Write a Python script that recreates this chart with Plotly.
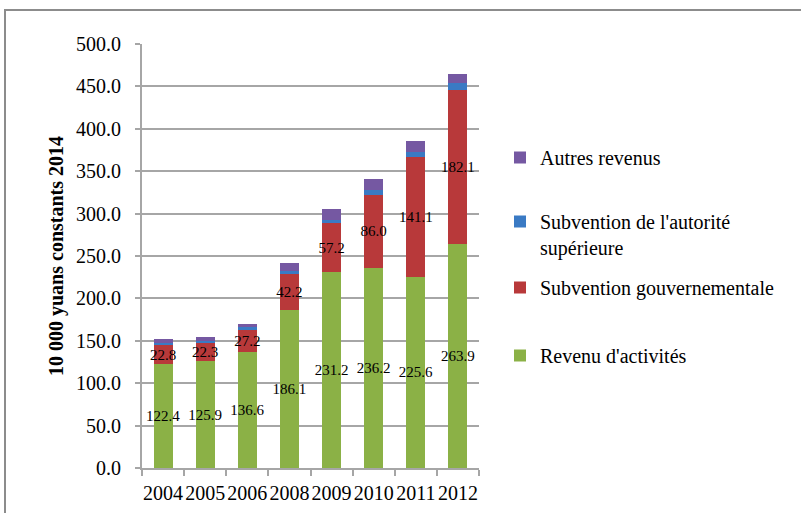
import plotly.graph_objects as go

years = ["2004", "2005", "2006", "2008", "2009", "2010", "2011", "2012"]
revenu_activites = [122.4, 125.9, 136.6, 186.1, 231.2, 236.2, 225.6, 263.9]
subvention_gouv = [22.8, 22.3, 27.2, 42.2, 57.2, 86.0, 141.1, 182.1]
subvention_autorite = [2.0, 1.6, 2.0, 3.5, 4.0, 6.0, 6.5, 7.5]
autres_revenus = [5.5, 4.8, 4.2, 10.5, 12.5, 13.0, 12.5, 11.0]

names = ["Revenu d'activités", "Subvention gouvernementale",
         "Subvention de l'autorité<br>supérieure", "Autres revenus"]
colors = ["#8BB146", "#B8393A", "#3A7AC4", "#7558A2"]

FONT = "Liberation Serif, Times New Roman, serif"
W, H = 801, 513
L, R, T, B = 142, 322, 44, 45

fig = go.Figure()
series = [revenu_activites, subvention_gouv, subvention_autorite, autres_revenus]
legend_ids = ["legend4", "legend3", "legend2", "legend"]
for i, (vals, name, col) in enumerate(zip(series, names, colors)):
    labelled = i < 2
    tf = dict(family=FONT, size=15, color="black")
    fig.add_trace(go.Bar(
        x=years, y=vals, name=name,
        marker=dict(color=col, line=dict(width=0)),
        text=[f"{v:.1f}" for v in vals] if labelled else None,
        textposition="inside" if labelled else "none",
        insidetextanchor="middle",
        textangle=0,
        constraintext="none",
        textfont=tf, insidetextfont=tf,
        cliponaxis=False,
        legend=legend_ids[i],
    ))

leg_font = dict(family=FONT, size=20, color="black")
def leg(center_px, valign="middle"):
    return dict(xref="container", yref="container", x=500 / W, y=1 - (center_px - 19) / H,
                xanchor="left", yanchor="top", font=leg_font, bgcolor="rgba(0,0,0,0)",
                borderwidth=0, valign=valign, itemwidth=30)

grid_col = "#A6A6A6"
fig.update_layout(
    width=W, height=H,
    margin=dict(l=L, r=R, t=T, b=B, pad=0, autoexpand=False),
    paper_bgcolor="white", plot_bgcolor="white",
    barmode="stack", bargap=0.55,
    font=dict(family=FONT, size=19, color="black"),
    showlegend=True,
    legend=leg(157),
    legend2=leg(221, valign="top"),
    legend3=leg(287),
    legend4=leg(355),
    xaxis=dict(type="category", showline=True, linecolor=grid_col, linewidth=2,
               ticks="outside", tickson="boundaries", ticklen=6, tickcolor=grid_col, tickwidth=2,
               tickangle=0, automargin=False, ticklabelstandoff=6,
               tickfont=dict(family=FONT, size=20, color="black"), showgrid=False),
    yaxis=dict(range=[0, 500], dtick=50, tickformat=".1f", showline=True, linecolor=grid_col,
               linewidth=2, ticks="outside", ticklen=5, tickcolor=grid_col, tickwidth=2,
               showgrid=True, gridcolor=grid_col, gridwidth=2, zeroline=False, automargin=False,
               tickfont=dict(family=FONT, size=20, color="black"), ticklabelstandoff=10,
               title=dict(text="<b>10 000 yuans constants 2014</b>", standoff=7,
                          font=dict(family=FONT, size=20, color="black"))),
)

pw, ph = W - L - R, H - T - B
fig.add_shape(type="rect", xref="paper", yref="paper",
              x0=(5 - L) / pw, x1=(W + 10 - L) / pw,
              y0=(H - B - (H + 10)) / ph, y1=(H - B - 10) / ph,
              line=dict(color="#8C8C8C", width=2), fillcolor="rgba(0,0,0,0)", layer="below")

fig.write_html("out.html", config={"displayModeBar": False},
               post_script="document.body.style.margin='0';")
